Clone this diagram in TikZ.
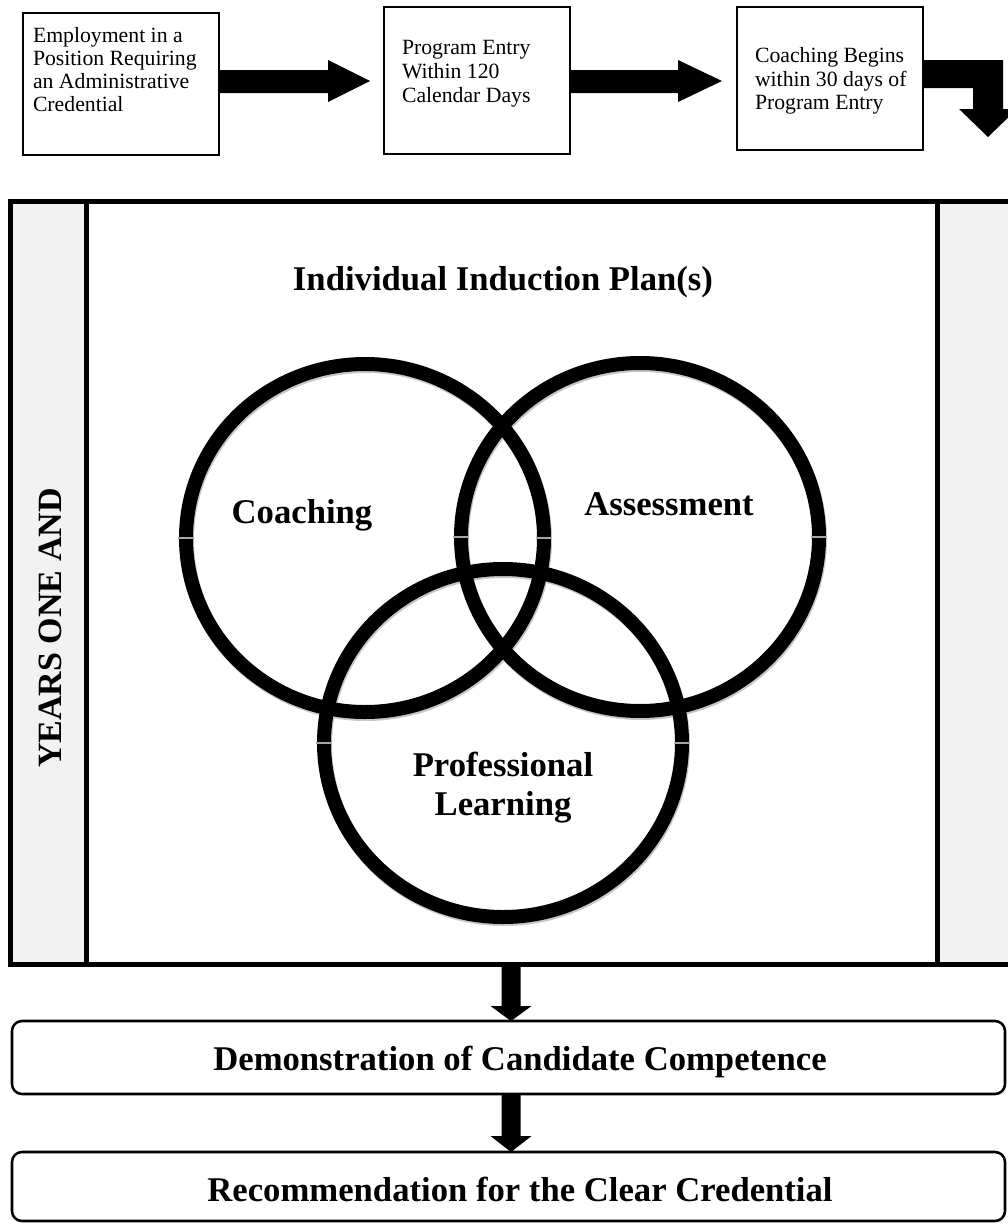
\documentclass[tikz,border=0pt]{standalone}
\usepackage{fontspec}
\setmainfont{Liberation Serif}
\usetikzlibrary{shapes.geometric,calc}
\definecolor{stripgray}{HTML}{F2F2F2}
\newcommand\fsmallA{\fontsize{16.3pt}{17.25pt}\selectfont}
\newcommand\fsmallB{\fontsize{16.3pt}{17.8pt}\selectfont}
\newcommand\fbig{\fontsize{26pt}{31pt}\selectfont\bfseries}
\newcommand\fvert{\fontsize{25.5pt}{30pt}\selectfont\bfseries}
\begin{document}
\begin{tikzpicture}[x=0.75pt,y=-0.75pt,
  topbox/.style={draw=black,line width=1.5pt,inner sep=0pt,outer sep=0pt,fill=white},
  toptext/.style={inner sep=0pt,outer sep=0pt,align=left,anchor=north west},
  ring/.style={ellipse,draw=black,line width=10.5pt,minimum width=268.5pt,minimum height=261pt,inner sep=0pt,outer sep=0pt},
  ringshadow/.style={ring,draw=black!22},
  tick/.style={draw=black!35,line width=0.8pt},
  bigtext/.style={inner sep=0pt,outer sep=0pt,anchor=base,font=\fbig},
  endbox/.style={draw=black,line width=1.9pt,rounded corners=7.5pt,inner sep=0pt,outer sep=0pt,minimum width=744.75pt,fill=white},
  framebox/.style={draw=black,line width=3.75pt,inner sep=0pt,outer sep=0pt,minimum height=572.25pt},
  arrowfill/.style={fill=black}
]
\useasboundingbox (0,0) rectangle (1007,1224);
\fill[white] (0,0) rectangle (1007,1224);

% top boxes
\node[topbox, minimum width=147.375pt, minimum height=106.5pt] (b1) at (120.75,84) {};
\node[topbox, minimum width=139.5pt, minimum height=110.25pt] (b2) at (477,80.5) {};
\node[topbox, minimum width=139.5pt, minimum height=107.25pt] (b3) at (830,78.5) {};
\node[toptext, font=\fsmallA] (t1) at (33,27.2) {Employment in a\\Position Requiring\\an Administrative\\Credential};
\node[toptext, font=\fsmallB] (t2) at (402,40.6) {Program Entry\\Within 120\\Calendar Days};
\node[toptext, font=\fsmallB] (t3) at (755,47.2) {Coaching Begins\\within 30 days of\\Program Entry};

% top arrows
\fill[arrowfill] (b1.east |- 0,70) -- ($(b2.west |- 0,70)+(-56,0)$) -- ($(b2.west |- 0,60)+(-56,0)$)
  -- ($(b2.west |- 0,81)+(-14,0)$) -- ($(b2.west |- 0,102)+(-56,0)$) -- ($(b2.west |- 0,93)+(-56,0)$)
  -- (b1.east |- 0,93) -- cycle;
\fill[arrowfill] (b2.east |- 0,70) -- ($(b3.west |- 0,70)+(-59,0)$) -- ($(b3.west |- 0,60)+(-59,0)$)
  -- ($(b3.west |- 0,81)+(-15,0)$) -- ($(b3.west |- 0,102)+(-59,0)$) -- ($(b3.west |- 0,93)+(-59,0)$)
  -- (b2.east |- 0,93) -- cycle;
\coordinate (bend) at (988,137);
\fill[arrowfill] (b3.east |- 0,60) -- (1003,60) -- (1003,109) -- (1017,109) -- (bend)
  -- (959,109) -- (973,109) -- (973,88) -- (b3.east |- 0,88) -- cycle;

% main frame
\node[framebox, fill=white, minimum width=772.125pt] (frame) at (525.25,582.5) {};
\node[framebox, fill=stripgray, minimum width=56.625pt] (lstrip) at (48.25,582.5) {};
\node[framebox, fill=stripgray, minimum width=77.25pt] (rstrip) at (988.5,582.5) {};
\node[inner sep=0pt, rotate=90, font=\fvert] (years) at (50,628) {YEARS ONE AND};

\node[bigtext] (title) at (503,290) {Individual Induction Plan(s)};

% rings
\node[ringshadow] (cCs) at (366,540) {};
\node[ringshadow] (cAs) at (641,539) {};
\node[ringshadow] (cPs) at (504,745) {};
\node[ring] (cC) at (365,538) {};
\node[ring] (cA) at (640,537) {};
\node[ring] (cP) at (503,743) {};
\foreach \c in {cC,cA,cP}{
  \draw[tick] ($(\c.west)+(-8,0)$) -- ($(\c.west)+(8,0)$);
  \draw[tick] ($(\c.east)+(-8,0)$) -- ($(\c.east)+(8,0)$);
}
\node[bigtext] (lC) at (302,523) {Coaching};
\node[bigtext] (lA) at (669,515) {Assessment};
\node[bigtext] (lP1) at (503,776) {Professional};
\node[bigtext] (lP2) at (503,815) {Learning};

% bottom boxes
\node[endbox, minimum height=54.75pt] (d1) at (508.5,1057.5) {};
\node[endbox, minimum height=51.75pt] (d2) at (508.5,1186.5) {};
\node[bigtext] (dt1) at (520,1070) {Demonstration of Candidate Competence};
\node[bigtext] (dt2) at (520,1201) {Recommendation for the Clear Credential};

\coordinate (xa) at (511,0);
\fill[arrowfill] ($(frame.south -| xa)+(-9.5,0)$) -- ($(d1.north -| xa)+(-9.5,-15)$) -- ($(d1.north -| xa)+(-20.5,-15)$)
  -- (d1.north -| xa) -- ($(d1.north -| xa)+(20.5,-15)$) -- ($(d1.north -| xa)+(9.5,-15)$)
  -- ($(frame.south -| xa)+(9.5,0)$) -- cycle;
\fill[arrowfill] ($(d1.south -| xa)+(-9.5,0)$) -- ($(d2.north -| xa)+(-9.5,-16)$) -- ($(d2.north -| xa)+(-20.5,-16)$)
  -- (d2.north -| xa) -- ($(d2.north -| xa)+(20.5,-16)$) -- ($(d2.north -| xa)+(9.5,-16)$)
  -- ($(d1.south -| xa)+(9.5,0)$) -- cycle;
\end{tikzpicture}
\end{document}
